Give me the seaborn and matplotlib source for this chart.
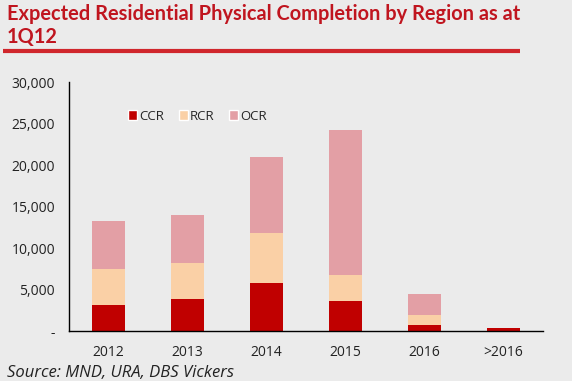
import matplotlib
matplotlib.use("Agg")
import matplotlib.pyplot as plt
from matplotlib.patches import Patch
from matplotlib.lines import Line2D
import seaborn as sns
import pandas as pd
import numpy as np

categories = ["2012", "2013", "2014", "2015", "2016", ">2016"]
ccr = [3100, 3900, 5800, 3650, 720, 360]
rcr = [4400, 4300, 6000, 3150, 1210, 0]
ocr = [5750, 5800, 9200, 17400, 2530, 0]
y_ticks = [0, 5000, 10000, 15000, 20000, 25000, 30000]
y_labels = ["-", "5,000", "10,000", "15,000", "20,000", "25,000", "30,000"]

c_ccr = "#C00000"
c_rcr = "#FAD0A6"
c_ocr = "#E39FA5"
bg = "#EBEBEB"

sns.set_style("white")
plt.rcParams["font.family"] = ["Open Sans", "DejaVu Sans"]

df = pd.DataFrame({"cat": categories, "CCR": ccr, "RCR": rcr, "OCR": ocr})
df["lvl2"] = df["CCR"] + df["RCR"]
df["lvl3"] = df["lvl2"] + df["OCR"]

fig = plt.figure(figsize=(5.72, 3.81), dpi=100, facecolor=bg)
ax = fig.add_axes([0.1206, 0.1312, 0.8284, 0.6535])
ax.set_facecolor(bg)

w = 0.42
sns.barplot(data=df, x="cat", y="lvl3", color=c_ocr, width=w, ax=ax, saturation=1, linewidth=0)
sns.barplot(data=df, x="cat", y="lvl2", color=c_rcr, width=w, ax=ax, saturation=1, linewidth=0)
sns.barplot(data=df, x="cat", y="CCR", color=c_ccr, width=w, ax=ax, saturation=1, linewidth=0)

ax.set_xlim(-0.5, len(categories) - 0.5)
ax.set_ylim(0, 30000)
ax.set_yticks(y_ticks)
ax.set_yticklabels(y_labels)
ax.set_xlabel("")
ax.set_ylabel("")
for s in ["top", "right"]:
    ax.spines[s].set_visible(False)
for s in ["left", "bottom"]:
    ax.spines[s].set_color("black")
    ax.spines[s].set_linewidth(1.0)

ax.set_xticks(np.arange(len(categories)))
ax.set_xticklabels(categories)
ax.set_xticks(np.arange(-0.5, len(categories)), minor=True)
ax.tick_params(axis="x", which="major", length=0, pad=10, labelsize=10, colors="#222222")
ax.tick_params(axis="x", which="minor", length=4, width=1, color="black", direction="out")
ax.tick_params(axis="y", length=4, width=1, color="black", direction="out", labelsize=10, pad=6, labelcolor="#222222")

handles = [Patch(facecolor=c_ccr, label="CCR"), Patch(facecolor=c_rcr, label="RCR"), Patch(facecolor=c_ocr, label="OCR")]
ax.legend(handles=handles, loc="center left", bbox_to_anchor=(0.125, 0.863), ncol=3, frameon=False,
          fontsize=9.5, handlelength=0.7, handleheight=0.7, handletextpad=0.15, columnspacing=1.1,
          borderpad=0, borderaxespad=0)

fig.text(0.012, 0.948, "Expected Residential Physical Completion by Region as at",
         ha="left", va="baseline", fontsize=14.4, fontweight="bold", color="#C0151F", family=["Lato", "DejaVu Sans"])
fig.text(0.012, 0.887, "1Q12",
         ha="left", va="baseline", fontsize=14.4, fontweight="bold", color="#C0151F", family=["Lato", "DejaVu Sans"])
fig.add_artist(Line2D([0.005, 0.909], [0.867, 0.867], transform=fig.transFigure, color="#D0262C",
                      linewidth=3, solid_capstyle="butt"))
fig.text(0.012, 0.0105, "Source: MND, URA, DBS Vickers", ha="left", va="baseline", fontsize=12,
         fontstyle="italic", color="#222222")

fig.savefig("out.png", dpi=100, facecolor=bg)
